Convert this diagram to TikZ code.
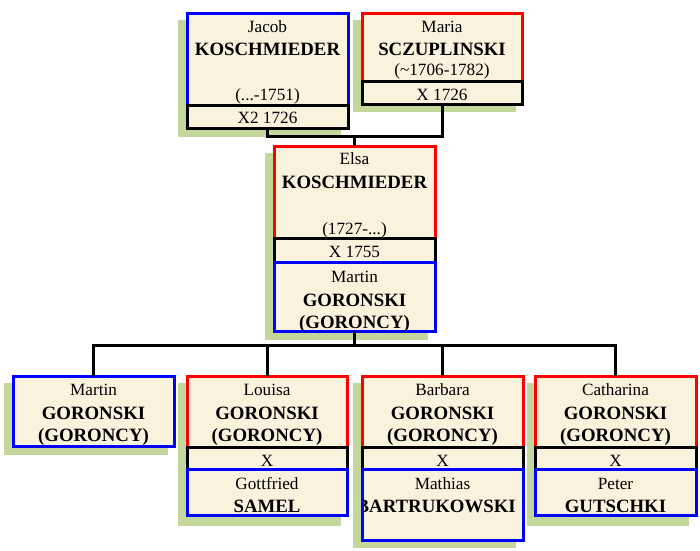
\documentclass[tikz,border=0pt]{standalone}
\usepackage{fontspec}
\setmainfont{Liberation Serif}
\definecolor{cream}{HTML}{F9F2DC}
\definecolor{shade}{HTML}{C3D69B}
\definecolor{pblue}{HTML}{0000FF}
\definecolor{pred}{HTML}{FF0000}
\tikzset{
  box/.style={rectangle, fill=cream, line width=3pt, inner sep=0pt, outer sep=0pt, anchor=north west},
  shadowbox/.style={rectangle, fill=shade, draw=none, inner sep=0pt, outer sep=0pt, anchor=north west},
  conn/.style={line width=3pt, draw=black},
  nm/.style={anchor=base, inner sep=0pt, font=\fontsize{17.2}{18}\selectfont},
  sn/.style={anchor=base, inner sep=0pt, font=\fontsize{18.8}{20}\selectfont\bfseries}
}
\newcommand\famrect[6]{\node[box, draw=#6, minimum width={(#4-#2)*1pt}, minimum height={(#5-#3)*1pt}] (#1) at (#2,#3) {};}
\newcommand\famshade[5]{\node[shadowbox, minimum width={(#4-#2)*1pt}, minimum height={(#5-#3)*1pt}] (#1) at (#2,#3) {};}
\begin{document}
\begin{tikzpicture}[x=1pt,y=-1pt]
\useasboundingbox (0,0) rectangle (700,550);
% shadows
\famshade{jacobsh}{178}{20}{341}{137}
\famshade{mariash}{353}{20}{516}{112}
\famshade{elsash}{265}{153}{428}{340}
\famshade{c1sh}{4}{383}{168}{455}
\famshade{c2sh}{178}{383}{341}{526}
\famshade{c3sh}{353}{383}{516}{548}
\famshade{c4sh}{527}{383}{689}{526}
% boxes
\famrect{jacob}{187}{13}{348}{105}{pblue}
\famrect{jacobm}{187}{105}{348}{128}{black}
\famrect{maria}{362}{13}{522}{81}{pred}
\famrect{mariam}{362}{81}{522}{104}{black}
\famrect{elsa}{274}{146}{435}{238}{pred}
\famrect{elsam}{274}{238}{435}{262}{black}
\famrect{martin}{274}{262}{435}{331}{pblue}
\famrect{c1}{13}{376}{174}{446}{pblue}
\famrect{c2}{187}{376}{347}{447}{pred}
\famrect{c2m}{187}{447}{347}{469}{black}
\famrect{c2s}{187}{469}{347}{515}{pblue}
\famrect{c3}{362}{376}{523}{447}{pred}
\famrect{c3m}{362}{447}{523}{469}{black}
\famrect{c3s}{362}{469}{523}{540}{pblue}
\famrect{c4}{535}{376}{696}{447}{pred}
\famrect{c4m}{535}{447}{696}{469}{black}
\famrect{c4s}{535}{469}{696}{515}{pblue}
% connectors
\coordinate (topbus) at (354.5,136);
\coordinate (lowbus) at (354.5,345);
\draw[conn] (jacobm.south) |- (topbus) -| (mariam.south);
\draw[conn] (topbus) -- (elsa.north);
\draw[conn] (martin.south) -- (lowbus);
\draw[conn] (c1.north) |- (lowbus) -| (c4.north);
\draw[conn] (c2.north) -- (c2.north |- lowbus);
\draw[conn] (c3.north) -- (c3.north |- lowbus);
% texts
\node[nm] (t1) at (267.5,32) {Jacob};
\node[sn] (t2) at (267.5,55) {KOSCHMIEDER};
\node[nm] (t3) at (267.5,100) {(...-1751)};
\node[nm] (t4) at (267.5,123) {X2 1726};
\node[nm] (t5) at (442,32) {Maria};
\node[sn] (t6) at (442,55) {SCZUPLINSKI};
\node[nm] (t7) at (442,75) {(\textasciitilde1706-1782)};
\node[nm] (t8) at (442,100) {X 1726};
\node[nm] (t9) at (354.5,164) {Elsa};
\node[sn] (t10) at (354.5,188) {KOSCHMIEDER};
\node[nm] (t11) at (354.5,234) {(1727-...)};
\node[nm] (t12) at (354.5,257) {X 1755};
\node[nm] (t13) at (354.5,282) {Martin};
\node[sn] (t14) at (354.5,306) {GORONSKI};
\node[sn] (t15) at (354.5,328) {(GORONCY)};
\node[nm] (t16) at (93.5,395) {Martin};
\node[sn] (t17) at (93.5,419) {GORONSKI};
\node[sn] (t18) at (93.5,441) {(GORONCY)};
\node[nm] (t19) at (267,395) {Louisa};
\node[sn] (t20) at (267,419) {GORONSKI};
\node[sn] (t21) at (267,441) {(GORONCY)};
\node[nm] (t22) at (267,466) {X};
\node[nm] (t23) at (267,489) {Gottfried};
\node[sn] (t24) at (267,512) {SAMEL};
\node[nm] (t25) at (442.5,395) {Barbara};
\node[sn] (t26) at (442.5,419) {GORONSKI};
\node[sn] (t27) at (442.5,441) {(GORONCY)};
\node[nm] (t28) at (442.5,466) {X};
\node[nm] (t29) at (442.5,489) {Mathias};
\begin{scope}
\clip (363.5,470.5) rectangle (521.5,538.5);
\node[sn, anchor=base east] (t30) at (516,512) {BARTRUKOWSKI};
\end{scope}
\node[nm] (t31) at (615.5,395) {Catharina};
\node[sn] (t32) at (615.5,419) {GORONSKI};
\node[sn] (t33) at (615.5,441) {(GORONCY)};
\node[nm] (t34) at (615.5,466) {X};
\node[nm] (t35) at (615.5,489) {Peter};
\node[sn] (t36) at (615.5,512) {GUTSCHKI};
\end{tikzpicture}
\end{document}
